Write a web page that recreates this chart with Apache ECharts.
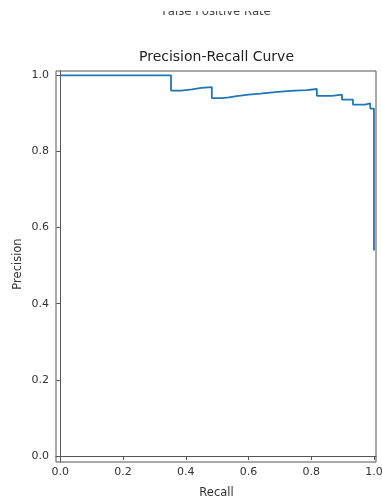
<!DOCTYPE html>
<html>
<head>
<meta charset="utf-8">
<script src="https://cdn.jsdelivr.net/npm/echarts@6/dist/echarts.min.js"></script>
<style>
html,body{margin:0;padding:0;background:#fff;}
#chart{width:382px;height:502px;}
</style>
</head>
<body>
<div id="chart"></div>
<script>
const recall = [0, 0.353, 0.385, 0.42, 0.45, 0.483, 0.515, 0.537, 0.568, 0.600, 0.638, 0.685, 0.733, 0.786, 0.818, 0.866, 0.898, 0.933, 0.972, 0.988, 1.0];
const precision = [1.0, 0.960, 0.963, 0.967, 0.969, 0.940, 0.942, 0.946, 0.949, 0.952, 0.956, 0.959, 0.961, 0.964, 0.946, 0.949, 0.936, 0.923, 0.926, 0.9125, 0.54];
const xTicks = [0, 0.2, 0.4, 0.6, 0.8, 1.0];
const yTicks = [0, 0.2, 0.4, 0.6, 0.8, 1.0];

const FONT = 'DejaVu Sans';
const AX = '#555';
const TXT = '#333';

const chart = echarts.init(document.getElementById('chart'), null, {renderer: 'canvas'});
const data = recall.map((r, i) => [r, precision[i]]);

chart.setOption({
  animation: false,
  backgroundColor: '#fff',
  grid: {left: 56, right: 6, top: 71, bottom: 40, show: true, borderColor: AX, borderWidth: 1, backgroundColor: 'transparent', containLabel: false, outerBoundsMode: 'none'},
  xAxis: {
    type: 'value', min: -0.0137, max: 1.0064,
    splitLine: {show: false},
    axisLine: {show: true, lineStyle: {color: AX, width: 1}},
    axisTick: {show: true, customValues: xTicks, length: 4, lineStyle: {color: AX}},
    axisLabel: {customValues: xTicks, formatter: v => v.toFixed(1), color: TXT, fontFamily: FONT, fontSize: 11, margin: 5, hideOverlap: false}
  },
  yAxis: {
    type: 'value', min: -0.0158, max: 1.0113,
    splitLine: {show: false},
    axisLine: {show: true, lineStyle: {color: AX, width: 1}},
    axisTick: {show: true, customValues: yTicks, length: 4, lineStyle: {color: AX}},
    axisLabel: {customValues: yTicks, formatter: v => v.toFixed(1), color: TXT, fontFamily: FONT, fontSize: 11, margin: 7}
  },
  series: [{
    type: 'line', data: data, step: 'end', showSymbol: false,
    lineStyle: {color: '#1f77b4', width: 1.8}
  }],
  graphic: [
    {type: 'text', x: 216.5, y: 17.5, style: {text: 'False Positive Rate', fill: '#444', font: '11.7px "DejaVu Sans"', textAlign: 'center', textVerticalAlign: 'bottom'}},
    {type: 'rect', shape: {x: 0, y: 0, width: 382, height: 11}, style: {fill: '#fff'}},
    {type: 'text', x: 216.5, y: 57, style: {text: 'Precision-Recall Curve', fill: '#222', font: '14px "DejaVu Sans"', textAlign: 'center', textVerticalAlign: 'middle'}},
    {type: 'text', x: 216.5, y: 493, style: {text: 'Recall', fill: TXT, font: '11.5px "DejaVu Sans"', textAlign: 'center', textVerticalAlign: 'middle'}},
    {type: 'text', x: 18, y: 264, rotation: Math.PI / 2, style: {text: 'Precision', fill: TXT, font: '11.5px "DejaVu Sans"', textAlign: 'center', textVerticalAlign: 'middle'}}
  ]
});
</script>
</body>
</html>
